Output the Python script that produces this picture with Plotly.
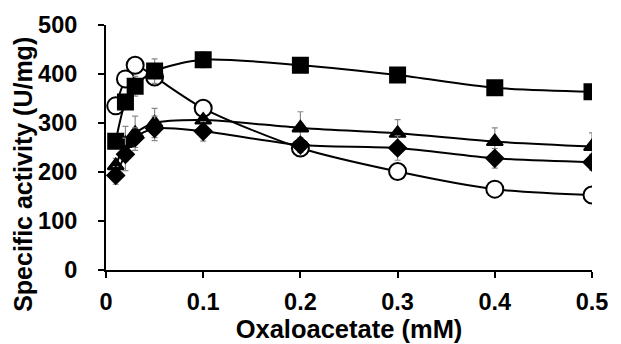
import plotly.graph_objects as go

x_vals = [0.01, 0.02, 0.03, 0.05, 0.1, 0.2, 0.3, 0.4, 0.5]
circle_vals = [335, 390, 418, 394, 330, 249, 201, 165, 153]
square_vals = [263, 343, 375, 406, 429, 418, 398, 372, 364]
square_err = [5, 8, 20, 25, 16, 8, 6, 6, 6]
triangle_vals = [213, 258, 279, 300, 306, 290, 279, 262, 252]
triangle_err = [15, 35, 35, 30, 6, 33, 28, 28, 28]
diamond_vals = [193, 236, 270, 289, 283, 255, 249, 228, 220]
diamond_err = [18, 33, 20, 25, 20, 15, 25, 20, 16]

x_ticks = [0, 0.1, 0.2, 0.3, 0.4, 0.5]
x_tick_text = ["0", "0.1", "0.2", "0.3", "0.4", "0.5"]
y_ticks = [0, 100, 200, 300, 400, 500]
y_tick_text = ["0", "100", "200", "300", "400", "500"]
y_title = "Specific activity (U/mg)"
x_title = "Oxaloacetate (mM)"

err_color = "#8a8a8a"
FAM = "Liberation Sans, Arial, sans-serif"

def series(y, err, symbol, size, fill):
    return go.Scatter(
        x=x_vals, y=y, mode="lines+markers",
        line=dict(color="black", width=2, shape="spline", smoothing=0.8),
        marker=dict(symbol=symbol, size=size, color=fill,
                    line=dict(color="black", width=2)),
        error_y=(dict(type="data", array=err, visible=True, color=err_color,
                      thickness=1.2, width=3) if err else None),
        showlegend=False,
    )

fig = go.Figure()
fig.add_trace(series(circle_vals, None, "circle", 17, "white"))
fig.add_trace(series(square_vals, square_err, "square", 15, "black"))
fig.add_trace(series(triangle_vals, triangle_err, "triangle-up", 14, "black"))
fig.add_trace(series(diamond_vals, diamond_err, "diamond", 13, "black"))

fig.update_layout(
    width=621, height=344,
    margin=dict(l=98, r=37, t=17, b=82),
    paper_bgcolor="white", plot_bgcolor="white",
    font=dict(family=FAM, size=24, color="black"),
    xaxis=dict(
        range=[0, 0.5], tickvals=x_ticks,
        ticktext=["<b>%s</b>" % t for t in x_tick_text],
        showline=True, linecolor="black", linewidth=2,
        ticks="outside", ticklen=6, tickwidth=2, tickcolor="black",
        showgrid=False, zeroline=False, automargin=False,
        tickfont=dict(family=FAM, size=23.5, color="black"),
        ticklabelstandoff=4,
        title=dict(text="<b>%s</b>" % x_title, font=dict(family=FAM, size=25.5), standoff=2),
    ),
    yaxis=dict(
        range=[0, 500], tickvals=y_ticks,
        ticktext=["<b>%s</b>" % t for t in y_tick_text],
        showline=True, linecolor="black", linewidth=2,
        ticks="outside", ticklen=6, tickwidth=2, tickcolor="black",
        showgrid=False, zeroline=False, automargin=False,
        tickfont=dict(family=FAM, size=23.5, color="black"),
        ticklabelstandoff=16,
    ),
    annotations=[dict(
        text="<b>%s</b>" % y_title, textangle=-90, showarrow=False,
        xref="paper", yref="paper", x=-0.171, y=0.392,
        xanchor="center", yanchor="middle",
        font=dict(family=FAM, size=25, color="black"),
    )],
)

fig.write_html("out.html")
